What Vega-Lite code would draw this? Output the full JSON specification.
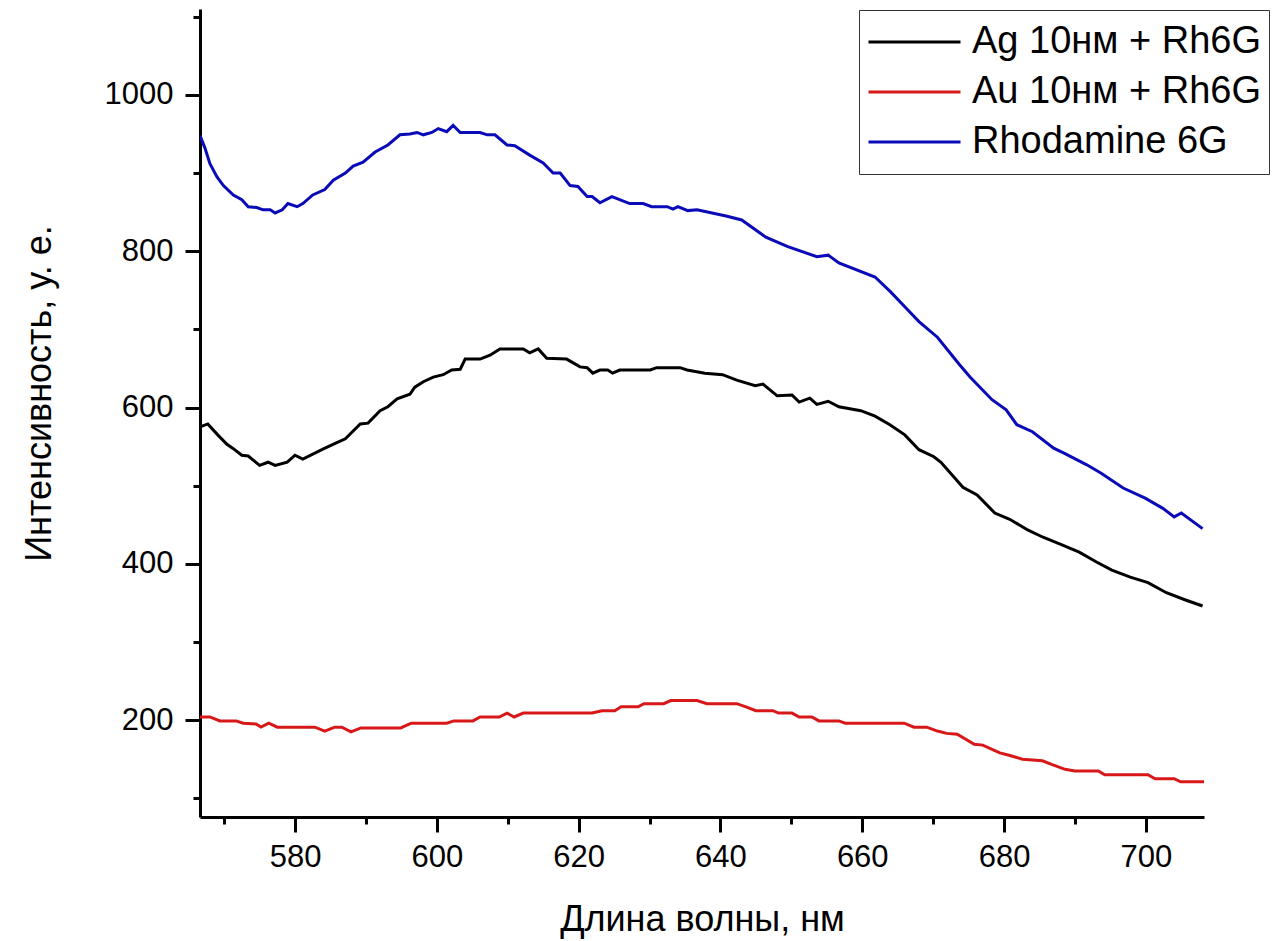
{
  "$schema": "https://vega.github.io/schema/vega-lite/v6.json",
  "width": 1004,
  "height": 808,
  "autosize": {"type": "none"},
  "padding": {"left": 200, "top": 9, "right": 70, "bottom": 124},
  "background": "white",
  "config": {"view": {"stroke": null}, "font": "Liberation Sans"},
  "datasets": {
    "blue": [
      {"w":566.6,"v":948},{"w":567.3,"v":932},{"w":568,"v":912},{"w":569,"v":895},{"w":569.9,"v":884},{"w":571.3,"v":872},{"w":572.5,"v":866},{"w":573.4,"v":857},{"w":574.6,"v":856},{"w":575.5,"v":853},{"w":576.5,"v":853},{"w":577.2,"v":849},{"w":578.2,"v":853},{"w":579,"v":861},{"w":580.3,"v":857},{"w":581.1,"v":861},{"w":582.5,"v":872},{"w":584.2,"v":879},{"w":585.4,"v":891},{"w":587.1,"v":900},{"w":588.2,"v":909},{"w":589.6,"v":914},{"w":591.3,"v":927},{"w":593.1,"v":936},{"w":594.8,"v":949},{"w":596.2,"v":950},{"w":597.2,"v":952},{"w":598.1,"v":949},{"w":599.3,"v":952},{"w":600.2,"v":957},{"w":601.4,"v":953},{"w":602.3,"v":961},{"w":603.3,"v":952},{"w":606.1,"v":952},{"w":607.1,"v":949},{"w":608.2,"v":949},{"w":609.9,"v":936},{"w":611,"v":935},{"w":613.1,"v":923},{"w":615,"v":913},{"w":616.4,"v":900},{"w":617.4,"v":900},{"w":618.8,"v":884},{"w":619.9,"v":883},{"w":621.2,"v":870},{"w":621.9,"v":870},{"w":623,"v":862},{"w":624.7,"v":870},{"w":627.2,"v":861},{"w":629.1,"v":861},{"w":630.3,"v":857},{"w":632.5,"v":857},{"w":633.3,"v":854},{"w":634,"v":857},{"w":635.4,"v":852},{"w":636.7,"v":853},{"w":640.8,"v":845},{"w":643,"v":840},{"w":646.4,"v":818},{"w":649.5,"v":806},{"w":653.6,"v":793},{"w":655.2,"v":795},{"w":656.7,"v":785},{"w":661.8,"v":767},{"w":664,"v":748},{"w":666,"v":729},{"w":668,"v":710},{"w":670.6,"v":690},{"w":673.7,"v":655},{"w":675.2,"v":639},{"w":678.3,"v":610},{"w":680.3,"v":597},{"w":681.8,"v":578},{"w":684,"v":569},{"w":687,"v":548},{"w":688.6,"v":541},{"w":691.6,"v":527},{"w":693.7,"v":516},{"w":696.8,"v":497},{"w":699.9,"v":484},{"w":702.4,"v":471},{"w":704,"v":460},{"w":705,"v":465},{"w":708,"v":445}
    ],
    "black": [
      {"w":566.8,"v":576},{"w":567.7,"v":579},{"w":569.1,"v":565},{"w":570.4,"v":553},{"w":571.2,"v":548},{"w":572.5,"v":539},{"w":573.4,"v":538},{"w":575,"v":526},{"w":576.2,"v":530},{"w":577.2,"v":526},{"w":578.9,"v":530},{"w":580,"v":539},{"w":581.1,"v":534},{"w":584,"v":547},{"w":585.9,"v":555},{"w":587.1,"v":560},{"w":589.2,"v":579},{"w":590.3,"v":580},{"w":592,"v":596},{"w":593.1,"v":601},{"w":594.4,"v":611},{"w":596.2,"v":617},{"w":596.9,"v":626},{"w":598.1,"v":633},{"w":599.5,"v":639},{"w":600.9,"v":642},{"w":602.1,"v":648},{"w":603.3,"v":649},{"w":604,"v":662},{"w":606.1,"v":662},{"w":607.5,"v":667},{"w":608.9,"v":675},{"w":612.2,"v":675},{"w":613.1,"v":670},{"w":614.3,"v":675},{"w":615.5,"v":663},{"w":618.3,"v":662},{"w":620.2,"v":652},{"w":621.2,"v":651},{"w":622,"v":644},{"w":623,"v":648},{"w":624.1,"v":648},{"w":624.8,"v":644},{"w":625.8,"v":648},{"w":630.1,"v":648},{"w":631,"v":651},{"w":634.3,"v":651},{"w":635.3,"v":648},{"w":637.8,"v":644},{"w":640.3,"v":642},{"w":642.3,"v":635},{"w":644.9,"v":628},{"w":646,"v":630},{"w":648,"v":615},{"w":650.1,"v":616},{"w":651.1,"v":607},{"w":652.6,"v":612},{"w":653.6,"v":604},{"w":655.2,"v":608},{"w":656.7,"v":601},{"w":659.8,"v":596},{"w":661.8,"v":589},{"w":663.9,"v":578},{"w":666,"v":565},{"w":668,"v":546},{"w":670.1,"v":537},{"w":671.1,"v":530},{"w":674.2,"v":498},{"w":676.2,"v":488},{"w":678.7,"v":465},{"w":680.8,"v":457},{"w":683.4,"v":443},{"w":685.5,"v":434},{"w":688,"v":425},{"w":690.6,"v":415},{"w":693.1,"v":402},{"w":695.2,"v":392},{"w":697.8,"v":383},{"w":700.3,"v":376},{"w":702.9,"v":363},{"w":705.5,"v":354},{"w":708,"v":346}
    ],
    "red": [
      {"w":566.6,"v":204},{"w":568,"v":204},{"w":569.4,"v":199},{"w":571.7,"v":199},{"w":572.7,"v":196},{"w":574.5,"v":195},{"w":575.2,"v":191},{"w":576.3,"v":196},{"w":577.5,"v":191},{"w":582.8,"v":191},{"w":584.2,"v":186},{"w":585.6,"v":191},{"w":586.6,"v":191},{"w":587.9,"v":185},{"w":589.3,"v":190},{"w":594.9,"v":190},{"w":596.4,"v":196},{"w":601.4,"v":196},{"w":602.4,"v":199},{"w":605.1,"v":199},{"w":606.1,"v":204},{"w":608.8,"v":204},{"w":609.9,"v":209},{"w":610.9,"v":204},{"w":612.2,"v":209},{"w":621.9,"v":209},{"w":623.3,"v":212},{"w":625.1,"v":212},{"w":626,"v":217},{"w":628.4,"v":217},{"w":629.2,"v":221},{"w":632,"v":221},{"w":633,"v":225},{"w":636.7,"v":225},{"w":638.1,"v":221},{"w":642.3,"v":221},{"w":643.6,"v":217},{"w":645,"v":212},{"w":647.4,"v":212},{"w":648.2,"v":209},{"w":650.1,"v":209},{"w":651.1,"v":204},{"w":652.9,"v":204},{"w":653.9,"v":199},{"w":656.7,"v":199},{"w":657.6,"v":196},{"w":665.9,"v":196},{"w":667.3,"v":191},{"w":669.1,"v":191},{"w":670.6,"v":186},{"w":671.9,"v":183},{"w":673.4,"v":182},{"w":675.8,"v":169},{"w":677,"v":168},{"w":679.4,"v":158},{"w":680.7,"v":155},{"w":682.6,"v":150},{"w":685.4,"v":148},{"w":686.8,"v":143},{"w":688.6,"v":137},{"w":690,"v":135},{"w":693.3,"v":135},{"w":694.2,"v":130},{"w":700.3,"v":130},{"w":701.3,"v":125},{"w":704,"v":125},{"w":704.9,"v":121},{"w":708.2,"v":121}
    ]
  },
  "encoding": {
    "x": {
      "field": "w", "type": "quantitative",
      "scale": {"domain": [566.6, 708.2], "nice": false, "zero": false},
      "axis": {
        "title": "Длина волны, нм",
        "values": [570,580,590,600,610,620,630,640,650,660,670,680,690,700],
        "labelExpr": "datum.value % 20 === 0 ? datum.label : ''",
        "grid": false,
        "domainColor": "black", "domainWidth": 3,
        "tickColor": "black", "tickWidth": 3,
        "tickSize": {"condition": {"test": "datum.value % 20 === 0", "value": 15}, "value": 7},
        "labelFontSize": 31, "labelColor": "black", "labelPadding": 10, "labelFlush": false, "labelOverlap": false,
        "titleFontSize": 36, "titleFontWeight": "normal", "titleColor": "black",
        "titleBaseline": "alphabetic", "titleY": 113
      }
    },
    "y": {
      "field": "v", "type": "quantitative",
      "scale": {"domain": [76, 1110], "nice": false, "zero": false},
      "axis": {
        "title": "Интенсивность, у. е.",
        "values": [100,200,300,400,500,600,700,800,900,1000,1100],
        "labelExpr": "datum.value % 200 === 0 ? datum.label : ''",
        "format": "d",
        "grid": false,
        "domainColor": "black", "domainWidth": 3,
        "tickColor": "black", "tickWidth": 3,
        "tickSize": {"condition": {"test": "datum.value % 200 === 0", "value": 15}, "value": 7},
        "labelFontSize": 31, "labelColor": "black", "labelPadding": 12, "labelFlush": false, "labelOverlap": false,
        "titleFontSize": 36, "titleFontWeight": "normal", "titleColor": "black",
        "titleBaseline": "alphabetic", "titleAngle": -90, "titleX": -150, "titleY": 384, "titleAlign": "center"
      }
    },
    "color": {
      "field": "s", "type": "nominal",
      "scale": {"domain": ["Ag 10нм + Rh6G", "Au 10нм + Rh6G", "Rhodamine 6G"], "range": ["#000000", "#d81818", "#0a0ab8"]},
      "legend": {
        "title": null, "orient": "none", "legendX": 659, "legendY": 1,
        "symbolType": "stroke", "symbolSize": 8464, "symbolStrokeWidth": 3,
        "labelFontSize": 38, "labelColor": "black", "labelOffset": 10, "labelLimit": 0,
        "clipHeight": 48, "rowPadding": 2, "padding": 8,
        "strokeColor": "#333333", "fillColor": "white"
      }
    }
  },
  "layer": [
    {"data": {"name": "black"}, "transform": [{"calculate": "'Ag 10нм + Rh6G'", "as": "s"}], "mark": {"type": "line", "strokeWidth": 3, "clip": true}},
    {"data": {"name": "red"}, "transform": [{"calculate": "'Au 10нм + Rh6G'", "as": "s"}], "mark": {"type": "line", "strokeWidth": 3, "clip": true}},
    {"data": {"name": "blue"}, "transform": [{"calculate": "'Rhodamine 6G'", "as": "s"}], "mark": {"type": "line", "strokeWidth": 3, "clip": true}}
  ]
}
